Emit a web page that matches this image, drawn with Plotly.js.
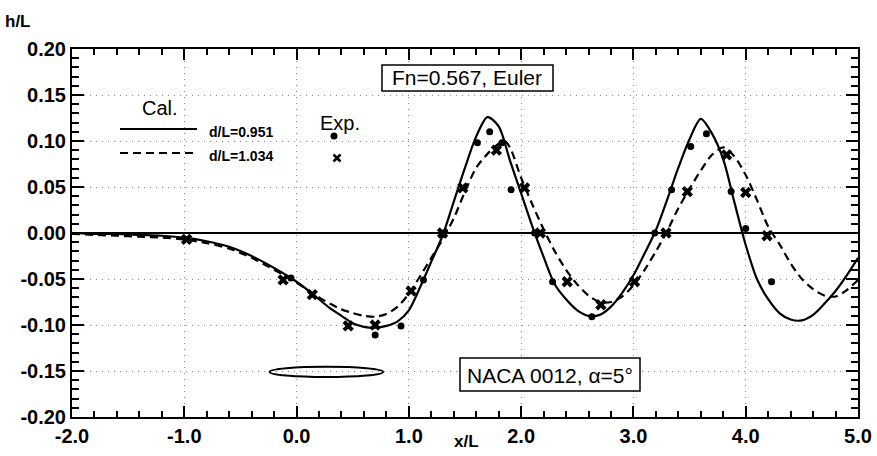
<!DOCTYPE html>
<html>
<head>
<meta charset="utf-8">
<script src="https://cdn.plot.ly/plotly-3.0.1.min.js"></script>
<style>
  html, body { margin: 0; padding: 0; background: #fff; }
  #chart { width: 877px; height: 456px; }
</style>
</head>
<body>
<div id="chart"></div>
<script>
// ---------------- data ----------------
// calculated wave profile, d/L = 0.951 (solid)
const calX951 = [-2.0,-1.8,-1.6,-1.4,-1.2,-1.0,-0.8,-0.6,-0.4,-0.2,0.0,0.1,0.2,0.3,0.4,0.5,0.6,0.7,0.8,0.9,1.0,1.1,1.2,1.3,1.4,1.5,1.6,1.7,1.8,1.9,2.0,2.1,2.2,2.3,2.4,2.5,2.6,2.7,2.8,2.9,3.0,3.1,3.2,3.3,3.4,3.5,3.6,3.7,3.8,3.9,4.0,4.1,4.2,4.3,4.4,4.5,4.6,4.7,4.8,4.9,5.0];
const calY951 = [0.000,-0.001,-0.001,-0.002,-0.003,-0.005,-0.009,-0.015,-0.025,-0.038,-0.053,-0.062,-0.072,-0.082,-0.090,-0.098,-0.102,-0.103,-0.101,-0.096,-0.084,-0.059,-0.031,-0.003,0.034,0.071,0.105,0.126,0.116,0.079,0.043,0.007,-0.026,-0.056,-0.072,-0.084,-0.090,-0.089,-0.080,-0.065,-0.046,-0.022,0.003,0.036,0.071,0.102,0.124,0.108,0.080,0.033,-0.013,-0.050,-0.072,-0.087,-0.094,-0.095,-0.089,-0.077,-0.063,-0.046,-0.027];

// calculated wave profile, d/L = 1.034 (dashed)
const calX1034 = [-2.0,-1.8,-1.6,-1.4,-1.2,-1.0,-0.8,-0.6,-0.4,-0.2,0.0,0.1,0.2,0.3,0.4,0.5,0.6,0.7,0.8,0.9,1.0,1.1,1.2,1.3,1.4,1.5,1.6,1.7,1.8,1.85,1.9,2.0,2.1,2.2,2.3,2.4,2.5,2.6,2.7,2.8,2.9,3.0,3.1,3.2,3.3,3.4,3.5,3.6,3.7,3.8,3.9,4.0,4.1,4.2,4.3,4.4,4.5,4.6,4.7,4.8,4.9,5.0];
const calY1034 = [-0.001,-0.002,-0.003,-0.004,-0.005,-0.007,-0.011,-0.017,-0.027,-0.040,-0.054,-0.062,-0.070,-0.077,-0.083,-0.087,-0.090,-0.091,-0.088,-0.080,-0.066,-0.047,-0.027,-0.007,0.016,0.045,0.071,0.086,0.097,0.100,0.093,0.060,0.031,0.004,-0.020,-0.040,-0.056,-0.068,-0.075,-0.075,-0.069,-0.057,-0.040,-0.020,0.002,0.027,0.048,0.068,0.085,0.093,0.083,0.063,0.036,0.007,-0.012,-0.033,-0.050,-0.061,-0.068,-0.069,-0.062,-0.051];

// experiment, d/L = 0.951 (dots)
const expX951 = [-0.05,0.70,0.93,1.13,1.31,1.61,1.72,1.83,1.91,2.12,2.28,2.63,3.19,3.34,3.51,3.65,3.87,4.00,4.23];
const expY951 = [-0.049,-0.111,-0.101,-0.051,0.000,0.098,0.110,0.098,0.047,0.000,-0.053,-0.091,0.000,0.047,0.094,0.108,0.045,0.005,-0.053];

// experiment, d/L = 1.034 (crosses)
const expX1034 = [-0.98,-0.12,0.14,0.46,0.70,1.02,1.30,1.48,1.78,2.03,2.17,2.41,2.71,3.01,3.29,3.48,3.83,4.00,4.19];
const expY1034 = [-0.007,-0.051,-0.067,-0.101,-0.100,-0.063,0.000,0.049,0.090,0.049,0.000,-0.053,-0.078,-0.053,0.000,0.045,0.085,0.044,-0.003];

// tick labels
const xTickVals = [-2,-1,0,1,2,3,4,5];
const xTickText = ["-2.0","-1.0","0.0","1.0","2.0","3.0","4.0","5.0"];
const yTickVals = [-0.20,-0.15,-0.10,-0.05,0.00,0.05,0.10,0.15,0.20];
const yTickText = ["-0.20","-0.15","-0.10","-0.05","0.00","0.05","0.10","0.15","0.20"];

// foil sketch (chord ends and thickness, in x/L, h/L units)
const foilX = [-0.24, 0.77];
const foilY = [-0.1565, -0.1455];

// ---------------- layout helpers ----------------
const L = 72, R = 858, T = 49, B = 417;
const px2x = p => (p - L) / (R - L);
const py2y = p => (B - p) / (B - T);
const BLK = '#000';
const tickFont = {family: 'Arial, "Liberation Sans", sans-serif', size: 20, color: BLK, weight: 700};
const txtFont = (s, w) => ({family: 'Arial, "Liberation Sans", sans-serif', size: s, color: BLK, weight: w || 400});

function aliasFrom(texts) {
  const a = {};
  texts.forEach(t => { if (t.startsWith('-')) a['\u2212' + t.slice(1)] = t; });
  return a;
}

const traces = [
  {x: calX951, y: calY951, mode: 'lines', line: {color: BLK, width: 2.2, shape: 'spline', smoothing: 0.8}, hoverinfo: 'skip'},
  {x: calX1034, y: calY1034, mode: 'lines', line: {color: BLK, width: 2.2, dash: '8px,5px', shape: 'spline', smoothing: 0.8}, hoverinfo: 'skip'},
  {x: expX951, y: expY951, mode: 'markers', marker: {symbol: 'circle', size: 7, color: BLK}, hoverinfo: 'skip'},
  {x: expX1034, y: expY1034, mode: 'markers', marker: {symbol: 'x', size: 10, color: BLK, line: {width: 0}}, hoverinfo: 'skip'}
];

const axisCommon = {
  showline: true, linecolor: BLK, linewidth: 2, mirror: 'ticks',
  ticks: 'inside', tickcolor: BLK, tickwidth: 1.5,
  tickmode: 'linear', tickfont: tickFont,
  showgrid: true, gridcolor: '#888', gridwidth: 1, griddash: '1px,5px'
};

const layout = {
  width: 877, height: 456,
  margin: {l: L, r: 877 - R, t: T, b: 456 - B, pad: 0},
  paper_bgcolor: '#fff', plot_bgcolor: '#fff',
  showlegend: false,
  xaxis: Object.assign({}, axisCommon, {
    range: [-2, 5], tick0: xTickVals[0], dtick: xTickVals[1] - xTickVals[0], tickformat: '.1f',
    labelalias: aliasFrom(xTickText), ticklen: 11,
    zeroline: false,
    minor: {dtick: 0.2, ticks: 'inside', ticklen: 6, tickcolor: BLK, tickwidth: 1.5, showgrid: false}
  }),
  yaxis: Object.assign({}, axisCommon, {
    range: [-0.2, 0.2], tick0: yTickVals[0], dtick: 0.05, tickformat: '.2f',
    labelalias: aliasFrom(yTickText), ticklen: 12,
    zeroline: true, zerolinecolor: BLK, zerolinewidth: 2,
    minor: {dtick: 0.01, ticks: 'inside', ticklen: 7, tickcolor: BLK, tickwidth: 1.5, showgrid: false}
  }),
  shapes: [
    {type: 'rect', xref: 'paper', yref: 'paper', x0: px2x(382), x1: px2x(553), y0: py2y(91), y1: py2y(65),
     line: {color: BLK, width: 1.5}, fillcolor: '#fff', layer: 'above'},
    {type: 'rect', xref: 'paper', yref: 'paper', x0: px2x(460), x1: px2x(640), y0: py2y(391), y1: py2y(358),
     line: {color: BLK, width: 1.5}, fillcolor: '#fff', layer: 'above'},
    {type: 'circle', xref: 'x', yref: 'y', x0: foilX[0], x1: foilX[1], y0: foilY[0], y1: foilY[1],
     line: {color: BLK, width: 2}},
    {type: 'line', xref: 'paper', yref: 'paper', x0: px2x(120), x1: px2x(197), y0: py2y(129), y1: py2y(129),
     line: {color: BLK, width: 2.2}},
    {type: 'line', xref: 'paper', yref: 'paper', x0: px2x(120), x1: px2x(197), y0: py2y(153), y1: py2y(153),
     line: {color: BLK, width: 2.2, dash: '8px,5px'}},
    {type: 'circle', xref: 'paper', yref: 'paper', xsizemode: 'pixel', ysizemode: 'pixel',
     xanchor: px2x(334), yanchor: py2y(136), x0: -3.5, x1: 3.5, y0: -3.5, y1: 3.5,
     fillcolor: BLK, line: {color: BLK, width: 0}},
    {type: 'path', xref: 'paper', yref: 'paper', xsizemode: 'pixel', ysizemode: 'pixel',
     xanchor: px2x(337), yanchor: py2y(158), path: 'M-3.5,-3.5L3.5,3.5M-3.5,3.5L3.5,-3.5',
     line: {color: BLK, width: 2.5}}
  ],
  annotations: [
    {xref: 'paper', yref: 'paper', x: px2x(18), y: py2y(22), text: 'h/L', showarrow: false,
     xanchor: 'center', yanchor: 'middle', font: txtFont(17, 700)},
    {xref: 'paper', yref: 'paper', x: px2x(466), y: py2y(442), text: 'x/L', showarrow: false,
     xanchor: 'center', yanchor: 'middle', font: txtFont(17, 700)},
    {xref: 'paper', yref: 'paper', x: px2x(467.5), y: py2y(78), text: 'Fn=0.567, Euler', showarrow: false,
     xanchor: 'center', yanchor: 'middle', font: txtFont(21)},
    {xref: 'paper', yref: 'paper', x: px2x(550), y: py2y(375), text: 'NACA 0012, α=5°', showarrow: false,
     xanchor: 'center', yanchor: 'middle', font: txtFont(21)},
    {xref: 'paper', yref: 'paper', x: px2x(160), y: py2y(108), text: 'Cal.', showarrow: false,
     xanchor: 'center', yanchor: 'middle', font: txtFont(20)},
    {xref: 'paper', yref: 'paper', x: px2x(340), y: py2y(123), text: 'Exp.', showarrow: false,
     xanchor: 'center', yanchor: 'middle', font: txtFont(20)},
    {xref: 'paper', yref: 'paper', x: px2x(207), y: py2y(132), text: 'd/L=0.951', showarrow: false,
     xanchor: 'left', yanchor: 'middle', font: txtFont(14, 700)},
    {xref: 'paper', yref: 'paper', x: px2x(207), y: py2y(156), text: 'd/L=1.034', showarrow: false,
     xanchor: 'left', yanchor: 'middle', font: txtFont(14, 700)}
  ]
};

Plotly.newPlot('chart', traces, layout, {displayModeBar: false});
</script>
</body>
</html>
